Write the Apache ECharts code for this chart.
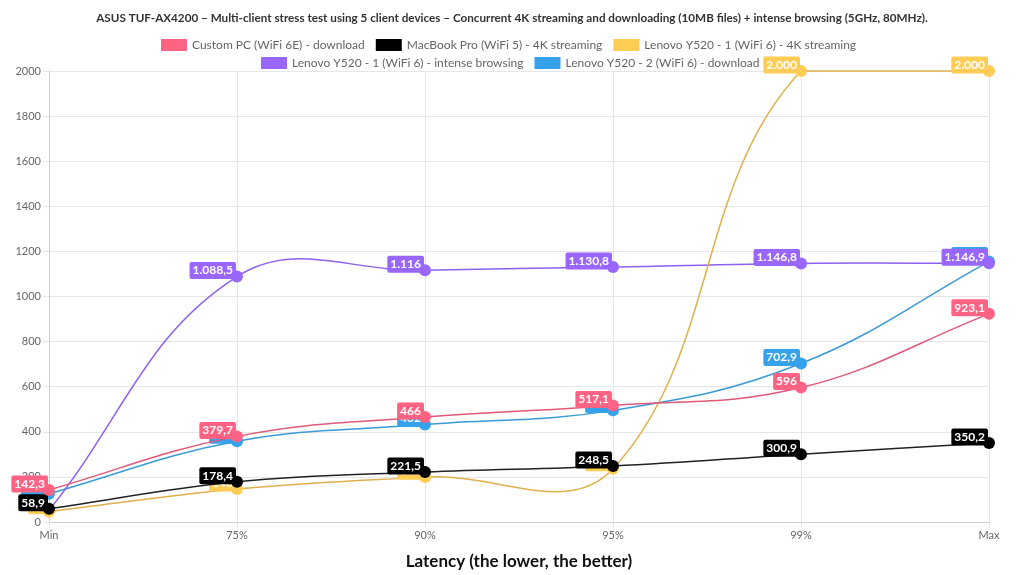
<!DOCTYPE html>
<html><head><meta charset="utf-8">
<script src="https://cdn.jsdelivr.net/npm/echarts@6/dist/echarts.min.js"></script>
<style>html,body{margin:0;padding:0;background:#fff}#c{width:1024px;height:575px}</style>
</head><body><div id="c"></div>
<script>
const categories = ['Min', '75%', '90%', '95%', '99%', 'Max'];
const seriesNames = [
  'Custom PC (WiFi 6E) - download',
  'MacBook Pro (WiFi 5) - 4K streaming',
  'Lenovo Y520 - 1 (WiFi 6) - 4K streaming',
  'Lenovo Y520 - 1 (WiFi 6) - intense browsing',
  'Lenovo Y520 - 2 (WiFi 6) - download'
];
const customPC = [142.3, 379.7, 466, 517.1, 596, 923.1];
const macBook = [58.9, 178.4, 221.5, 248.5, 300.9, 350.2];
const lenovo1Stream = [46, 146, 199, 236, 2000, 2000];
const lenovo1Browse = [52, 1088.5, 1116, 1130.8, 1146.8, 1146.9];
const lenovo2Download = [125, 358, 432, 495, 702.9, 1155];
const yTicks = [0, 200, 400, 600, 800, 1000, 1200, 1400, 1600, 1800, 2000];

const colors = ['#ff6384', '#000000', '#ffcd56', '#9966ff', '#36a2eb'];
const lineColors = ['#e05a78', '#222222', '#dfb04c', '#8e5ff0', '#3a9ad8'];
const allData = [customPC, macBook, lenovo1Stream, lenovo1Browse, lenovo2Download];
const TENSION = 0.4;

function fmt(v) {
  const parts = String(v).split('.');
  const i = parts[0].replace(/\B(?=(\d{3})+(?!\d))/g, '.');
  return parts[1] ? i + ',' + parts[1] : i;
}

// Cardinal spline control points (distance-weighted), computed on pixel coords from the axes
function splinePath(pts, area) {
  const n = pts.length;
  const cps = [];
  const clampX = x => Math.max(area.x, Math.min(area.x + area.width, x));
  const clampY = y => Math.max(area.y, Math.min(area.y + area.height, y));
  for (let i = 0; i < n; i++) {
    const prev = pts[Math.max(i - 1, 0)], cur = pts[i], next = pts[Math.min(i + 1, n - 1)];
    const d01 = Math.hypot(cur[0] - prev[0], cur[1] - prev[1]);
    const d12 = Math.hypot(next[0] - cur[0], next[1] - cur[1]);
    let s01 = d01 / (d01 + d12), s12 = d12 / (d01 + d12);
    if (isNaN(s01)) s01 = 0;
    if (isNaN(s12)) s12 = 0;
    const fa = TENSION * s01, fb = TENSION * s12;
    cps.push({
      p: [clampX(cur[0] - fa * (next[0] - prev[0])), clampY(cur[1] - fa * (next[1] - prev[1]))],
      n: [clampX(cur[0] + fb * (next[0] - prev[0])), clampY(cur[1] + fb * (next[1] - prev[1]))]
    });
  }
  let d = 'M' + pts[0][0] + ' ' + pts[0][1];
  for (let i = 1; i < n; i++) {
    d += ' C' + cps[i - 1].n[0] + ' ' + cps[i - 1].n[1] + ' ' + cps[i].p[0] + ' ' + cps[i].p[1] + ' ' + pts[i][0] + ' ' + pts[i][1];
  }
  return d;
}

const FONT = 'Lato, "Open Sans", sans-serif';
const chart = echarts.init(document.getElementById('c'), null, {renderer: 'canvas'});

const series = [];
allData.forEach((d, k) => {
  series.push({
    name: seriesNames[k],
    type: 'custom',
    data: d.map((v, i) => [i, v]),
    encode: {x: 0, y: 1},
    z: 2 * (10 - k) - 1,
    silent: true,
    legendHoverLink: false,
    itemStyle: {color: colors[k]},
    renderItem: (params, api) => {
      if (params.dataIndex !== 0) return null;
      const pts = d.map((v, i) => api.coord([i, v]));
      return {
        type: 'path',
        shape: {pathData: splinePath(pts, params.coordSys)},
        style: {stroke: lineColors[k], fill: null, lineWidth: 1.5}
      };
    }
  });
  series.push({
    name: seriesNames[k],
    type: 'line',
    data: d,
    z: 2 * (10 - k),
    symbol: 'circle',
    symbolSize: 12,
    showAllSymbol: true,
    itemStyle: {color: colors[k]},
    lineStyle: {width: 0, opacity: 0},
    emphasis: {disabled: true},
    label: {
      show: true,
      position: 'left',
      distance: -5,
      offset: [0, -6],
      formatter: p => fmt(p.value),
      color: '#fff',
      fontFamily: FONT,
      fontWeight: 'bold',
      fontSize: 12,
      backgroundColor: colors[k],
      padding: [3, 3, 2, 3],
      borderRadius: 2
    }
  });
});

const legendCommon = {
  itemWidth: 26, itemHeight: 12, itemGap: 11, icon: 'rect',
  textStyle: {fontFamily: FONT, fontSize: 12, color: '#666'}
};

chart.setOption({
  animation: false,
  backgroundColor: '#fff',
  color: colors,
  title: {
    text: 'ASUS TUF-AX4200 – Multi-client stress test using 5 client devices – Concurrent 4K streaming and downloading (10MB files) + intense browsing (5GHz, 80MHz).',
    left: 'center', top: 7,
    textStyle: {fontFamily: FONT, fontSize: 11.7, fontWeight: 'bold', color: '#333'}
  },
  legend: [
    Object.assign({data: seriesNames.slice(0, 3), top: 34, left: 156}, legendCommon),
    Object.assign({data: seriesNames.slice(3), top: 52, left: 256}, legendCommon)
  ],
  grid: {left: 49, right: 35, top: 71, bottom: 51},
  xAxis: {
    type: 'category', data: categories, boundaryGap: false,
    name: 'Latency (the lower, the better)', nameLocation: 'middle', nameGap: 31,
    nameTextStyle: {fontFamily: FONT, fontSize: 17, fontWeight: 'bold', color: '#111'},
    axisLine: {lineStyle: {color: '#d0d0d0'}},
    axisTick: {show: true, length: 6, lineStyle: {color: '#e6e6e6'}},
    axisLabel: {fontFamily: FONT, fontSize: 11, color: '#666', margin: 8},
    splitLine: {show: true, lineStyle: {color: '#e6e6e6'}}
  },
  yAxis: {
    type: 'value', min: yTicks[0], max: yTicks[yTicks.length - 1], interval: yTicks[1] - yTicks[0],
    axisLine: {show: true, lineStyle: {color: '#d0d0d0'}},
    axisTick: {show: true, length: 6, lineStyle: {color: '#e6e6e6'}},
    axisLabel: {fontFamily: FONT, fontSize: 11, color: '#666', margin: 8, formatter: v => String(v)},
    splitLine: {lineStyle: {color: '#e6e6e6'}}
  },
  series: series
});
</script></body></html>
